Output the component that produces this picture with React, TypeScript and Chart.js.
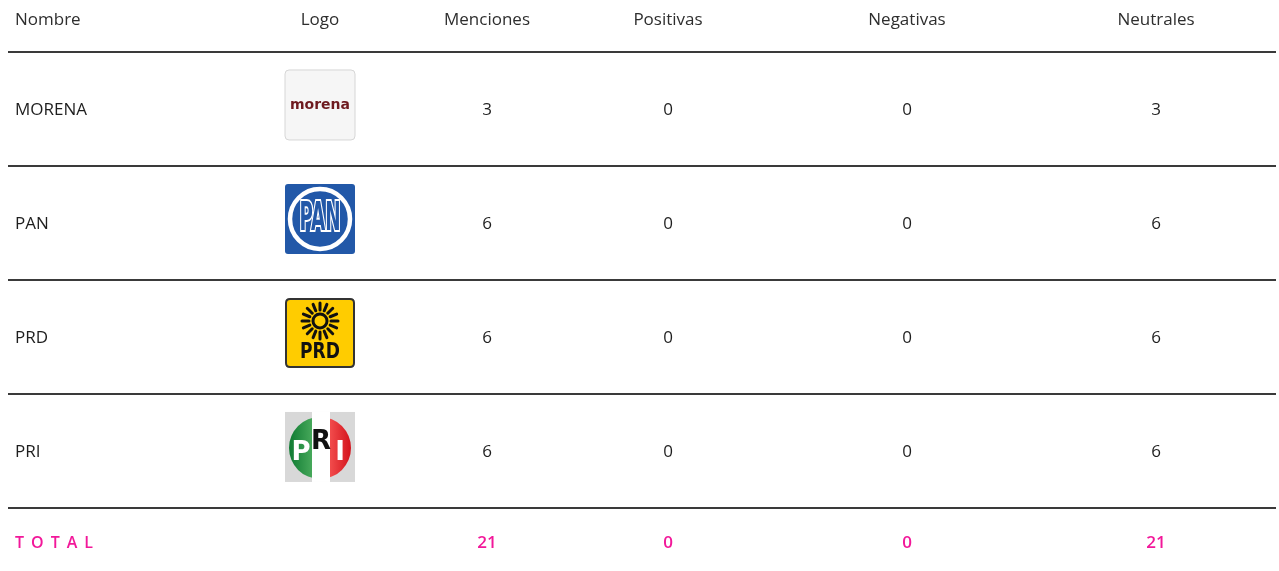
import React, { useEffect, useRef } from 'react';
import { Chart, registerables } from 'chart.js';
Chart.register(...registerables);

// ---- data ----
const headers = ['Nombre', 'Logo', 'Menciones', 'Positivas', 'Negativas', 'Neutrales'];
const parties = ['MORENA', 'PAN', 'PRD', 'PRI'];
const menciones = [3, 6, 6, 6];
const positivas = [0, 0, 0, 0];
const negativas = [0, 0, 0, 0];
const neutrales = [3, 6, 6, 6];
const totalLabel = 'TOTAL';

// ---- layout / style ----
const W = 1279;
const H = 571;
const colX = [15, 320, 487, 668, 907, 1156];
const HEADER_Y = -0.79;
const TOTAL_Y = 3.8;
const PINK = '#f2189a';
const TEXT = '#1e1e1e';
const LINE = '#3a3a3a';
const TEXT_DY = 1;

const numericCols = [menciones, positivas, negativas, neutrales];
const sum = (a: number[]) => a.reduce((s, v) => s + v, 0);

function roundRect(ctx: CanvasRenderingContext2D, x: number, y: number, w: number, h: number, r: number) {
  ctx.beginPath();
  ctx.moveTo(x + r, y);
  ctx.lineTo(x + w - r, y);
  ctx.quadraticCurveTo(x + w, y, x + w, y + r);
  ctx.lineTo(x + w, y + h - r);
  ctx.quadraticCurveTo(x + w, y + h, x + w - r, y + h);
  ctx.lineTo(x + r, y + h);
  ctx.quadraticCurveTo(x, y + h, x, y + h - r);
  ctx.lineTo(x, y + r);
  ctx.quadraticCurveTo(x, y, x + r, y);
  ctx.closePath();
}

function drawMorena(ctx: CanvasRenderingContext2D, cx: number, cy: number) {
  roundRect(ctx, cx - 35, cy - 35, 70, 70, 4);
  ctx.fillStyle = '#f6f6f6';
  ctx.fill();
  ctx.strokeStyle = '#d6d6d6';
  ctx.lineWidth = 1;
  ctx.stroke();
  ctx.fillStyle = '#6e1a1f';
  ctx.font = 'bold 14px "DejaVu Sans"';
  ctx.textAlign = 'center';
  ctx.textBaseline = 'middle';
  ctx.fillText('morena', cx, cy);
}

function drawPAN(ctx: CanvasRenderingContext2D, cx: number, cy: number) {
  roundRect(ctx, cx - 35, cy - 35, 70, 70, 3);
  ctx.fillStyle = '#2258a8';
  ctx.fill();
  ctx.beginPath();
  ctx.arc(cx, cy, 30, 0, Math.PI * 2);
  ctx.strokeStyle = '#ffffff';
  ctx.lineWidth = 4.5;
  ctx.stroke();
  ctx.font = 'bold 30px "DejaVu Sans Condensed"';
  ctx.textAlign = 'center';
  ctx.textBaseline = 'middle';
  ctx.save();
  ctx.translate(cx, cy + 1);
  ctx.scale(0.68, 1.3);
  ctx.fillStyle = '#ffffff';
  ctx.strokeStyle = '#ffffff';
  ctx.lineWidth = 3;
  ctx.strokeText('PAN', 0, 0);
  ctx.fillStyle = '#2258a8';
  ctx.fillText('PAN', 0, 0);
  ctx.lineWidth = 0.8;
  ctx.restore();
}

function drawPRD(ctx: CanvasRenderingContext2D, cx: number, cy: number) {
  roundRect(ctx, cx - 34, cy - 34, 68, 68, 4);
  ctx.fillStyle = '#ffcc00';
  ctx.fill();
  ctx.strokeStyle = '#333333';
  ctx.lineWidth = 2;
  ctx.stroke();
  const sx = cx;
  const sy = cy - 12;
  ctx.fillStyle = '#111111';
  ctx.strokeStyle = '#111111';
  ctx.beginPath();
  ctx.arc(sx, sy, 7, 0, Math.PI * 2);
  ctx.lineWidth = 3;
  ctx.stroke();
  ctx.lineCap = 'round';
  for (let i = 0; i < 16; i++) {
    const a = (i / 16) * Math.PI * 2;
    ctx.beginPath();
    ctx.moveTo(sx + Math.cos(a) * 11, sy + Math.sin(a) * 11);
    ctx.lineTo(sx + Math.cos(a) * 18, sy + Math.sin(a) * 18);
    ctx.lineWidth = 3;
    ctx.stroke();
  }
  ctx.lineCap = 'butt';
  ctx.font = 'bold 19px "DejaVu Sans"';
  ctx.textAlign = 'center';
  ctx.textBaseline = 'middle';
  ctx.save();
  ctx.translate(cx, cy + 20);
  ctx.scale(0.9, 1.1);
  ctx.fillText('PRD', 0, 0);
  ctx.restore();
}

function drawPRI(ctx: CanvasRenderingContext2D, cx: number, cy: number) {
  ctx.fillStyle = '#d8d8d8';
  ctx.fillRect(cx - 35, cy - 35, 70, 70);
  ctx.save();
  ctx.beginPath();
  ctx.arc(cx, cy + 1, 31, 0, Math.PI * 2);
  ctx.clip();
  const g = ctx.createLinearGradient(cx - 31, 0, cx - 8, 0);
  g.addColorStop(0, '#0f7a32');
  g.addColorStop(1, '#46a85a');
  ctx.fillStyle = g;
  ctx.fillRect(cx - 35, cy - 35, 27, 70);
  const r = ctx.createLinearGradient(cx + 10, 0, cx + 31, 0);
  r.addColorStop(0, '#f24c4c');
  r.addColorStop(1, '#d3131c');
  ctx.fillStyle = r;
  ctx.fillRect(cx + 10, cy - 35, 25, 70);
  ctx.restore();
  ctx.fillStyle = '#ffffff';
  ctx.fillRect(cx - 8, cy - 35, 18, 70);
  ctx.font = 'bold 26px "DejaVu Sans"';
  ctx.textAlign = 'center';
  ctx.textBaseline = 'middle';
  ctx.fillStyle = '#ffffff';
  ctx.fillText('P', cx - 19, cy + 6);
  ctx.fillStyle = '#111111';
  ctx.fillText('R', cx + 1, cy - 5);
  ctx.fillStyle = '#ffffff';
  ctx.fillText('I', cx + 20, cy + 6);
}

const logoDrawers = [drawMorena, drawPAN, drawPRD, drawPRI];

const tablePlugin = {
  id: 'tablePlugin',
  beforeDatasetsDraw(chart: any) {
    const { ctx, chartArea, scales } = chart;
    const x = scales.x;
    const y = scales.y;
    ctx.save();
    // headers
    ctx.textBaseline = 'middle';
    ctx.fillStyle = '#2e2e2e';
    ctx.font = '17px "Open Sans"';
    headers.forEach((h, i) => {
      ctx.textAlign = i === 0 ? 'left' : 'center';
      ctx.fillText(h, x.getPixelForValue(colX[i]), y.getPixelForValue(HEADER_Y) + TEXT_DY);
    });
    // separators
    ctx.strokeStyle = LINE;
    ctx.lineWidth = 2;
    for (let i = 0; i <= parties.length; i++) {
      const py = Math.round(y.getPixelForValue(i - 0.5));
      ctx.beginPath();
      ctx.moveTo(chartArea.left, py);
      ctx.lineTo(chartArea.right, py);
      ctx.stroke();
    }
    // party names & logos
    parties.forEach((p, i) => {
      const py = y.getPixelForValue(i);
      ctx.fillStyle = TEXT;
      ctx.font = '17px "Open Sans"';
      ctx.textAlign = 'left';
      ctx.textBaseline = 'middle';
      ctx.fillText(p, x.getPixelForValue(colX[0]), py + TEXT_DY);
      ctx.save();
      logoDrawers[i](ctx, x.getPixelForValue(colX[1]), py - 4);
      ctx.restore();
    });
    // total label
    ctx.fillStyle = PINK;
    ctx.font = '600 16px "Open Sans"';
    ctx.textAlign = 'left';
    ctx.textBaseline = 'middle';
    let tx = x.getPixelForValue(colX[0]);
    const ty = y.getPixelForValue(TOTAL_Y) + TEXT_DY;
    for (const ch of totalLabel.split('')) {
      ctx.fillText(ch, tx, ty);
      tx += ctx.measureText(ch).width + 7;
    }
    ctx.restore();
  },
  afterDatasetsDraw(chart: any) {
    const { ctx } = chart;
    ctx.save();
    ctx.textAlign = 'center';
    ctx.textBaseline = 'middle';
    chart.data.datasets.forEach((ds: any, di: number) => {
      const meta = chart.getDatasetMeta(di);
      meta.data.forEach((pt: any, i: number) => {
        const raw = ds.data[i];
        const isTotal = i === parties.length;
        ctx.fillStyle = isTotal ? PINK : TEXT;
        ctx.font = isTotal ? '600 17px "Open Sans"' : '17px "Open Sans"';
        ctx.fillText(String(raw.v), pt.x, pt.y + TEXT_DY);
      });
    });
    ctx.restore();
  },
};

export default function App() {
  const ref = useRef<HTMLCanvasElement | null>(null);
  useEffect(() => {
    document.body.style.margin = '0';
    const canvas = ref.current;
    if (!canvas) return;
    const datasets = numericCols.map((col, k) => ({
      label: headers[k + 2],
      data: [
        ...col.map((v, i) => ({ x: colX[k + 2], y: i, v })),
        { x: colX[k + 2], y: TOTAL_Y, v: sum(col) },
      ],
      pointRadius: 0,
      pointHoverRadius: 0,
      showLine: false,
    }));
    const chart = new Chart(canvas, {
      type: 'scatter',
      data: { datasets },
      options: {
        animation: false,
        responsive: false,
        devicePixelRatio: 1,
        layout: { padding: { left: 8, right: 3, top: 0, bottom: 0 } },
        plugins: { legend: { display: false }, tooltip: { enabled: false } },
        events: [],
        scales: {
          x: { type: 'linear', min: 8, max: 1276, display: false },
          y: { type: 'linear', min: -0.956, max: 4.053, reverse: true, display: false },
        },
      },
      plugins: [tablePlugin],
    } as any);
    return () => chart.destroy();
  }, []);
  return (
    <div style={{ width: W, height: H, background: '#ffffff' }}>
      <canvas ref={ref} width={W} height={H} style={{ display: 'block' }} />
    </div>
  );
}
